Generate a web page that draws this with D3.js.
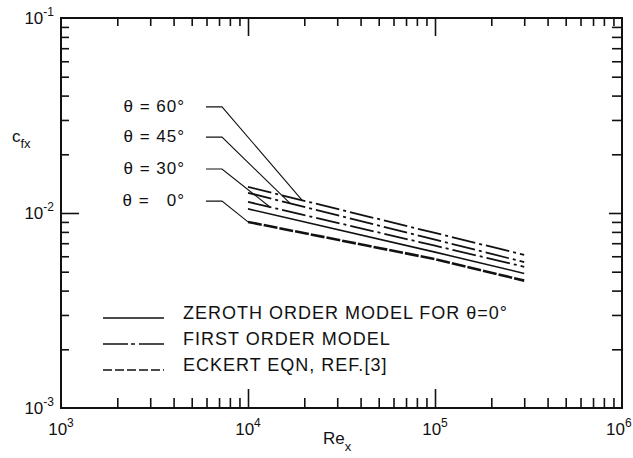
<!DOCTYPE html>
<html>
<head>
<meta charset="utf-8">
<script src="https://cdn.jsdelivr.net/npm/d3@7"></script>
<style>
  body { margin: 0; background: #fff; }
  svg { display: block; font-family: 'Liberation Sans', Arial, sans-serif; }
  text { fill: #111; }
</style>
</head>
<body>
<svg width="633" height="458"></svg>
<script>
var reValues = [1e4, 1e5, 3e5]

// skin friction coefficient curves
var theta60 = [0.0136, 0.0079, 0.0061]
var theta45 = [0.0127, 0.0073, 0.0056]
var theta30 = [0.0114, 0.0068, 0.0053]
var zeroth = [0.0105, 0.0063, 0.0049]
var eckert = [0.0090, 0.0058, 0.0045]

// axis tick labels (exponents of the decades)
var xDecades = [3, 4, 5, 6]
var yDecades = [-1, -2, -3]

// theta labels and the Re where each leader meets its curve
var thetaLabels = ['θ = 60°', 'θ = 45°', 'θ = 30°', 'θ =   0°']
var leaderRe = [1.95e4, 1.68e4, 1.31e4, 1e4]
var leaderCf = [0.0350, 0.0245, 0.0168, 0.0115]

var legendLabels = [
  'ZEROTH ORDER MODEL FOR θ=0°',
  'FIRST ORDER MODEL',
  'ECKERT EQN, REF.[3]'
]

const svg = d3.select('svg')
const W = 633

const plotL = 61, plotR = 622, plotT = 18, plotB = 408

const x = d3.scaleLog().domain([1e3, 1e6]).range([plotL, plotR])
const y = d3.scaleLog().domain([1e-3, 1e-1]).range([plotB, plotT])

// major / minor tick values
var xMajor = xDecades.map(d => Math.pow(10, d))
var yMajor = yDecades.map(d => Math.pow(10, d))
var xMinor = [], yMinor = []
for (var d = 3; d < 6; d++) for (var k = 2; k < 10; k++) xMinor.push(k * Math.pow(10, d))
for (var d = -3; d < -1; d++) for (var k = 2; k < 10; k++) yMinor.push(k * Math.pow(10, d))

function tickAxis(axis, vals, size) {
  return axis.tickValues(vals).tickSize(size).tickFormat('')
}

function addAxis(gen, tx, ty) {
  const g = svg.append('g').attr('transform', `translate(${tx}, ${ty})`).call(gen)
  g.select('.domain').remove()
  g.selectAll('line').attr('stroke', '#111').attr('stroke-width', 1.6)
}

// inward ticks on all four sides
addAxis(tickAxis(d3.axisBottom(x), xMinor, -10), 0, plotB)
addAxis(tickAxis(d3.axisBottom(x), xMajor.slice(1, 3), -19), 0, plotB)
addAxis(tickAxis(d3.axisTop(x), xMinor, -8), 0, plotT)
addAxis(tickAxis(d3.axisTop(x), xMajor.slice(1, 3), -18), 0, plotT)
addAxis(tickAxis(d3.axisLeft(y), yMinor, -8), plotL, 0)
addAxis(tickAxis(d3.axisLeft(y), yMajor.slice(1, 2), -18), plotL, 0)
addAxis(tickAxis(d3.axisRight(y), yMinor, -10), plotR, 0)
addAxis(tickAxis(d3.axisRight(y), yMajor.slice(1, 2), -13), plotR, 0)

// frame
svg.append('rect')
  .attr('x', plotL).attr('y', plotT)
  .attr('width', plotR - plotL).attr('height', plotB - plotT)
  .attr('fill', 'none').attr('stroke', '#111').attr('stroke-width', 2)

// x tick labels
xDecades.forEach(function(e) {
  const t = svg.append('text')
    .attr('x', x(Math.pow(10, e)))
    .attr('y', 435)
    .attr('text-anchor', 'middle')
    .attr('font-size', 17)
  t.append('tspan').text('10')
  t.append('tspan').attr('dy', -8).attr('font-size', 12).text(e)
  // keep the last label inside the page
  const bb = t.node().getBBox()
  if (bb.x + bb.width > W - 1) t.attr('x', x(Math.pow(10, e)) - (bb.x + bb.width - W + 1))
})

// y tick labels
yDecades.forEach(function(e) {
  const t = svg.append('text')
    .attr('x', 54)
    .attr('y', y(Math.pow(10, e)) + 6)
    .attr('text-anchor', 'end')
    .attr('font-size', 17)
  t.append('tspan').text('10')
  t.append('tspan').attr('dy', -8).attr('font-size', 12).text(e)
})

// axis titles
const yt = svg.append('text').attr('x', 12).attr('y', 142).attr('font-size', 17)
yt.append('tspan').text('c')
yt.append('tspan').attr('dy', 6).attr('font-size', 13).text('fx')

const xt = svg.append('text').attr('x', 323).attr('y', 444).attr('font-size', 17)
xt.append('tspan').text('Re')
xt.append('tspan').attr('dy', 7).attr('font-size', 13).text('x')

// curves
const line = d3.line()
  .x(d => x(d[0]))
  .y(d => y(d[1]))

var curves = [
  { values: theta60, dash: '24,4,3,4', width: 1.8 },
  { values: theta45, dash: '24,4,3,4', width: 1.8 },
  { values: theta30, dash: '24,4,3,4', width: 1.8 },
  { values: zeroth, dash: null, width: 1.6 },
  { values: eckert, dash: '14,2', width: 2.6 }
]

svg.append('g')
  .selectAll('path')
  .data(curves)
  .enter()
  .append('path')
  .attr('d', c => line(reValues.map((r, i) => [r, c.values[i]])))
  .attr('fill', 'none')
  .attr('stroke', '#111')
  .attr('stroke-width', c => c.width)
  .attr('stroke-dasharray', c => c.dash)

// value of a curve at some Re (straight line in log-log between read points)
function curveAt(vals, re) {
  var i = re <= reValues[1] ? 0 : 1
  var t = (Math.log(re) - Math.log(reValues[i])) / (Math.log(reValues[i + 1]) - Math.log(reValues[i]))
  return Math.exp(Math.log(vals[i]) + t * (Math.log(vals[i + 1]) - Math.log(vals[i])))
}

var leaderCurves = [theta60, theta45, theta30, eckert]

thetaLabels.forEach(function(lbl, i) {
  const ly = y(leaderCf[i])
  svg.append('text')
    .attr('x', 185)
    .attr('y', ly + 5)
    .attr('text-anchor', 'end')
    .attr('font-size', 17)
    .attr('letter-spacing', 1)
    .style('white-space', 'pre')
    .text(lbl)
  svg.append('path')
    .attr('d', d3.line()([
      [206, ly],
      [222, ly],
      [x(leaderRe[i]), y(curveAt(leaderCurves[i], leaderRe[i]))]
    ]))
    .attr('fill', 'none')
    .attr('stroke', '#111')
    .attr('stroke-width', 1.1)
})

// legend
var legendDash = [null, '25,3,4,4,25', '9,3']
legendLabels.forEach(function(lbl, i) {
  const ly = 318 + i * 26
  svg.append('line')
    .attr('x1', 103).attr('x2', 164)
    .attr('y1', ly).attr('y2', ly)
    .attr('stroke', '#111')
    .attr('stroke-width', 1.6)
    .attr('stroke-dasharray', legendDash[i])
  svg.append('text')
    .attr('x', 183)
    .attr('y', ly + 1)
    .attr('font-size', 18)
    .attr('letter-spacing', 1)
    .text(lbl)
})
</script>
</body>
</html>
